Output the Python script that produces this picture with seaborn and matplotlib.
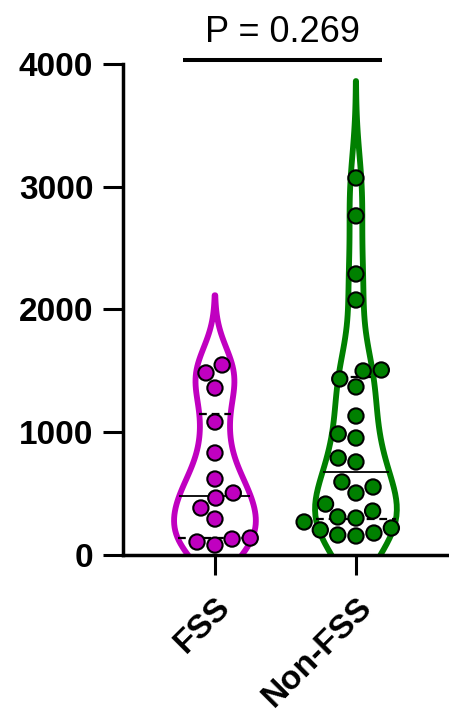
import numpy as np
import pandas as pd
import seaborn as sns
import matplotlib
matplotlib.use("Agg")
import matplotlib.pyplot as plt

# Per-group measurements
groups = ["FSS", "Non-FSS"]
fss_values = [1548, 1483, 1360, 1083, 831, 619, 464, 505, 383, 293, 130, 106, 138, 81]
non_fss_values = [3071, 2762, 2289, 2077, 1499, 1507, 1434, 1369, 1132, 986, 953,
                  790, 758, 595, 554, 505, 415, 301, 269, 310, 358, 204, 220, 179,
                  163, 155]
group_colors = ["#C000C0", "#008000"]
y_ticks = [0, 1000, 2000, 3000, 4000]
p_label = "P = 0.269"

df = pd.DataFrame({
    "group": ["FSS"] * len(fss_values) + ["Non-FSS"] * len(non_fss_values),
    "value": fss_values + non_fss_values,
})

sns.set_style("ticks")
plt.rcParams["font.family"] = ["Liberation Sans", "DejaVu Sans"]
plt.rcParams["text.color"] = "black"

fig = plt.figure(figsize=(4.49, 7.18), dpi=100)
ax = fig.add_axes([0.274, 0.227, 0.726, 0.684])
ax.set_xlim(-0.652, 1.66)
ax.set_ylim(0, 4000)

sns.violinplot(data=df, x="group", y="value", hue="group", palette=group_colors,
               order=groups, hue_order=groups, fill=False, inner=None,
               linewidth=4.2, width=0.58, density_norm="width", cut=2.6,
               bw_adjust=0.7, legend=False, ax=ax)
ax.set_xlim(-0.652, 1.66)
ax.set_ylim(0, 4000)

# Median (solid) and quartile (dashed) lines spanning the violin outline
violins = [c for c in ax.collections]
for i, (vals, coll) in enumerate(zip([fss_values, non_fss_values], violins)):
    verts = coll.get_paths()[0].vertices
    right = verts[verts[:, 0] > i]
    right = right[np.argsort(right[:, 1])]
    q1, med, q3 = np.percentile(vals, [25, 50, 75], method="weibull")
    for q, style in [(q1, "dashed"), (med, "solid"), (q3, "dashed")]:
        half = np.interp(q, right[:, 1], right[:, 0]) - i
        if style == "solid":
            ax.plot([i - half, i + half], [q, q], color="black", lw=1.3,
                    solid_capstyle="butt", zorder=2)
        else:
            ax.plot([i - half, i + half], [q, q], color="black", lw=1.6,
                    dashes=(3.5, 2.2), zorder=2)

sns.swarmplot(data=df, x="group", y="value", hue="group", palette=group_colors,
              order=groups, hue_order=groups, size=11, edgecolor="black",
              linewidth=1.5, legend=False, ax=ax, zorder=3)

ax.set_xlim(-0.652, 1.66)
ax.set_ylim(0, 4000)
ax.set_yticks(y_ticks)
ax.set_xlabel("")
ax.set_ylabel("")

for side in ["top", "right"]:
    ax.spines[side].set_visible(False)
for side in ["left", "bottom"]:
    ax.spines[side].set_linewidth(2.5)
    ax.spines[side].set_color("black")

ax.tick_params(axis="both", length=14.4, width=2.2, color="black",
               labelsize=24, labelcolor="black")
ax.tick_params(axis="y", pad=7)
ax.tick_params(axis="x", pad=12)
for lab in ax.get_yticklabels():
    lab.set_fontweight("bold")
for lab in ax.get_xticklabels():
    lab.set_fontweight("bold")
    lab.set_rotation(45)
    lab.set_ha("right")
    lab.set_rotation_mode("anchor")

# Significance bracket and label
ax.plot([0 - 0.227, 1 + 0.184], [4033, 4033], color="black", lw=2.9,
        solid_capstyle="butt", clip_on=False)
fig.text(0.630, 0.9415, p_label, ha="center", va="baseline", fontsize=26,
         color="black")

fig.savefig("out.png", dpi=100)
